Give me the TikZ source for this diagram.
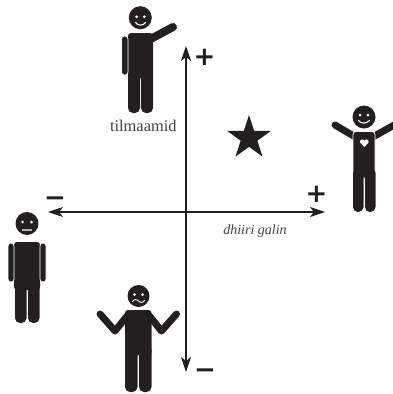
\documentclass[tikz,border=0pt]{standalone}
\usepackage{fontspec}
\setmainfont{Liberation Serif}
\newfontfamily\signfont{DejaVu Sans}
\usetikzlibrary{arrows.meta,shapes.geometric}
\definecolor{ink}{HTML}{231F20}

\begin{document}
\begin{tikzpicture}[x=1pt, y=-1pt,
	achse/.style={draw=ink, line width=1.1pt, {Stealth[length=15pt,width=10pt,inset=4pt]}-{Stealth[length=15pt,width=10pt,inset=4pt]}},
	koerper/.style={fill=ink},
	glied/.style={draw=ink, line width=7.5pt, line cap=round, line join=round},
	kante/.style={fill=ink, draw=white, line width=0.7pt},
	gesicht/.style={draw=white, line width=1.1pt, line cap=round},
	zeichen/.style={font=\signfont\bfseries\fontsize{26}{26}\selectfont, text=ink, inner sep=0pt},
	beschr/.style={text=ink!85, inner sep=0pt, anchor=base}]
%
%Koordinaten & Knoten

\useasboundingbox (0,0) rectangle (392,394);

\coordinate (origin) at (186,212);
\coordinate (xl) at (48,212);
\coordinate (xr) at (325,212);
\coordinate (yt) at (186,46);
\coordinate (yb) at (186,372);

%Achsen
	\draw [achse] (xl) -- (xr);
	\draw [achse] (yb) -- (yt);

	\node [zeichen] (plusy) at (204.5,57) {+};
	\node [zeichen] (plusx) at (316.5,194.5) {+};
	\node [zeichen, anchor=north] (minusx) at (55,196.5) {−};
	\node [zeichen, anchor=north] (minusy) at (205,369) {−};

	\node [beschr] (tilm) at (143.3,131.5) {\fontsize{16.4}{19}\selectfont tilmaamid};
	\node [beschr] (galin) at (255,234) {\fontsize{14}{17}\selectfont\itshape dhiiri galin};

%Stern
	\node [star, star points=5, star point ratio=2.618, fill=ink, inner sep=0pt, minimum size=46pt] (stern) at (249,138) {};

%Figur oben
	\fill [koerper] (140.3,17.7) circle (11.5pt);
	\fill [white] (136.7,16.7) circle (1.5pt) (144.3,16.7) circle (1.5pt);
	\draw [gesicht] (135.5,22.5) .. controls (138,26) and (143,26) .. (145.5,22.5);
	\draw [glied, line width=8pt] (147,41) -- (173,27);
	\fill [koerper, rounded corners=3pt] (128,33) rectangle (153,78);
	\filldraw [kante, rounded corners=3pt] (121.5,36) rectangle (128,75);
	\foreach \i in {128,141}{
		\fill [koerper, rounded corners=5pt] (\i,70) rectangle (\i+12,113);
	}

%Figur rechts
	\fill [koerper] (364,117) circle (11.5pt);
	\fill [white] (360,115) circle (1.5pt) (368,115) circle (1.5pt);
	\draw [gesicht] (358.5,120.5) .. controls (361,124) and (366,124) .. (369.5,120.5);
	\draw [glied, line width=7pt] (357,138) -- (335,125);
	\draw [glied, line width=7pt] (371,138) -- (396,124);
	\filldraw [kante, rounded corners=3pt] (353,131.5) rectangle (375,178);
	\foreach \i in {353,365}{
		\fill [koerper, rounded corners=5pt] (\i,168) rectangle (\i+10.5,212);
	}
	\fill [white] (362.2,141.6) circle (2.2pt) (366.4,141.6) circle (2.2pt);
	\fill [white] (360.1,142.4) -- (368.5,142.4) -- (364.3,147.2) -- cycle;

%Figur links
	\fill [koerper] (27,223.5) circle (11.5pt);
	\fill [white] (22.7,222) circle (1.5pt) (31.5,222) circle (1.5pt);
	\draw [gray!60, line width=1.2pt] (22,230) -- (32,230);
	\fill [koerper, rounded corners=3pt] (14,242) rectangle (40,290);
	\foreach \i in {8,40}{
		\filldraw [kante, rounded corners=3pt] (\i,243) rectangle (\i+6,282);
	}
	\foreach \i in {15,28}{
		\fill [koerper, rounded corners=5pt] (\i,280) rectangle (\i+11.5,323);
	}

%Figur unten
	\fill [koerper] (138.5,296) circle (11pt);
	\fill [white] (134.5,294.5) circle (1.5pt) (142.5,294.5) circle (1.5pt);
	\draw [gesicht, line width=0.9pt] (132.5,301.5) .. controls (134.5,299) and (136,299) .. (138.5,301) .. controls (141,303) and (142.5,303) .. (144.5,300.5);
	\draw [glied, line width=7pt] (127,316) -- (115,331) -- (100,314);
	\draw [glied, line width=7pt] (149.5,316) -- (161.5,331) -- (176.5,314);
	\fill [koerper, rounded corners=3pt] (125,310) rectangle (151.5,355);
	\foreach \i in {125,139}{
		\fill [koerper, rounded corners=5pt] (\i,345) rectangle (\i+12.5,392);
	}

\end{tikzpicture}
\end{document}
